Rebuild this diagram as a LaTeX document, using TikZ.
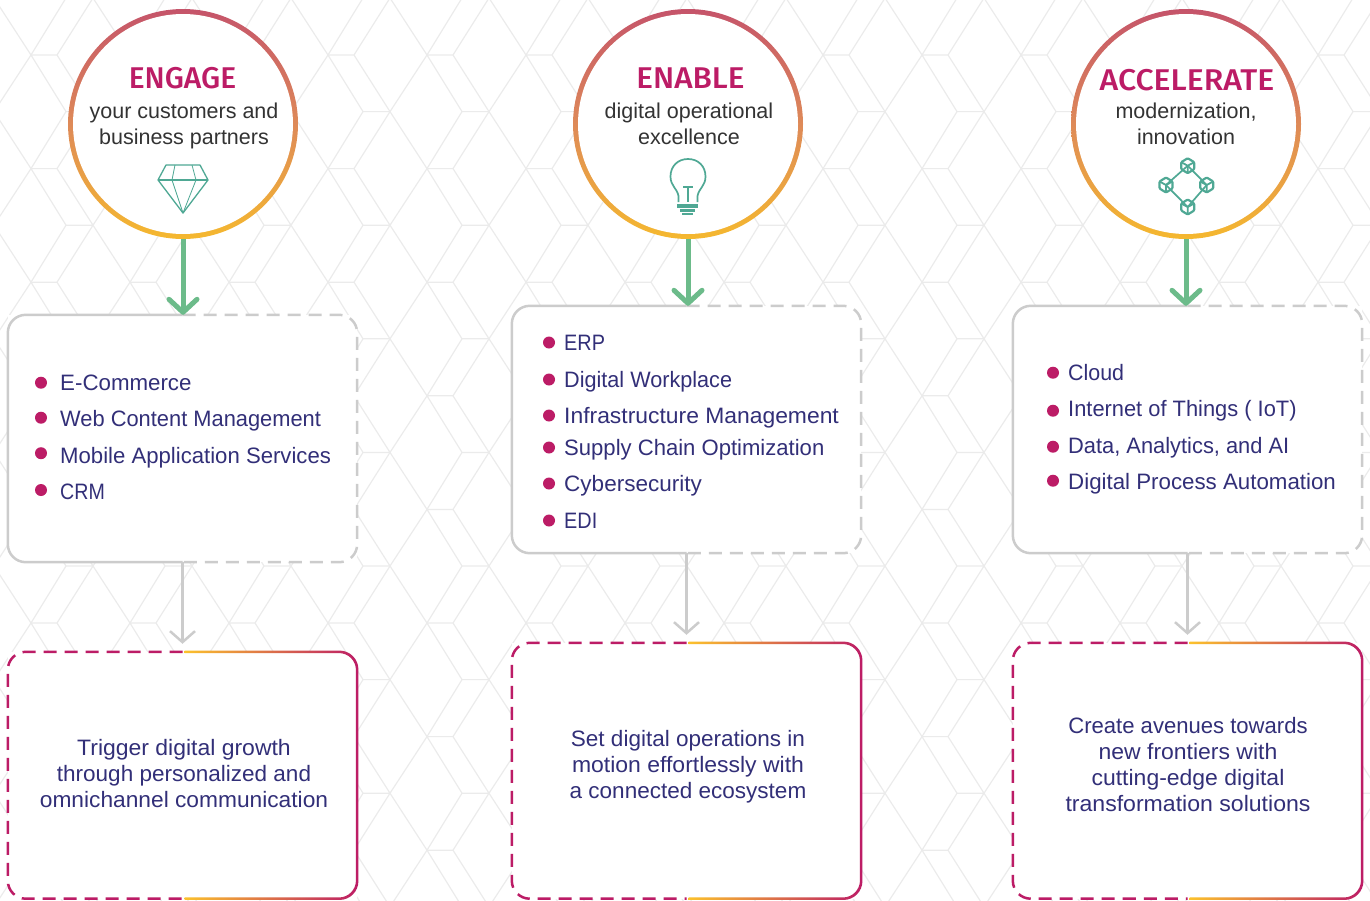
\documentclass[tikz,border=0pt]{standalone}
\usepackage{graphicx}
\usepackage{fontspec}
\setmainfont{Liberation Sans}
\newfontfamily\headfont{Fira Sans Medium}
\usetikzlibrary{arrows.meta}
\definecolor{patt}{HTML}{EBEBEB}
\definecolor{ink}{HTML}{322F78}
\definecolor{rose}{HTML}{BC1C66}
\definecolor{subink}{HTML}{333333}
\definecolor{leaf}{HTML}{6CBB8A}
\definecolor{ash}{HTML}{CCCCCC}
\definecolor{teal}{HTML}{4FA894}
\definecolor{ringtop}{HTML}{C5546A}
\definecolor{ringmid}{HTML}{DE8A58}
\definecolor{ringbot}{HTML}{F5B82F}
\definecolor{gold}{HTML}{FCC32B}
\newcommand{\xs}[2]{\scalebox{#1}[1]{#2}}
\tikzset{
  ringnode/.style={circle,minimum size=230pt,inner sep=0pt,top color=ringtop,bottom color=ringbot,middle color=ringmid},
  discnode/.style={circle,minimum size=220pt,inner sep=0pt,fill=white},
  titletext/.style={anchor=base,text=rose,font=\fontsize{30}{32}\selectfont\headfont},
  subtext/.style={anchor=base,text=subink,font=\fontsize{21.5}{26}\selectfont},
  panel/.style={minimum width=349pt,inner sep=0pt,fill=white},
  listtext/.style={anchor=base west,inner xsep=0pt,text=ink,font=\fontsize{22.3}{26}\selectfont},
  blurb/.style={anchor=center,align=center,text=ink,font=\fontsize{22.3}{26}\selectfont},
  dotnode/.style={circle,minimum size=12pt,inner sep=0pt,fill=rose},
  greyedge/.style={draw=ash,line width=2.5pt,rounded corners=18pt},
  pinkedge/.style={draw=rose,line width=2.5pt,rounded corners=18pt},
  bigarrow/.style={draw=leaf,line width=5pt,-{Straight Barb[length=13pt,width=28pt,line cap=round,round]}},
  thinarrow/.style={draw=ash,line width=2.5pt,-{Straight Barb[length=11pt,width=25pt]}},
  icon/.style={draw=teal,line width=1.3pt,line join=round},
}
\newcommand{\halfgrey}[1]{%
  \draw[greyedge] (#1.north) -- (#1.north west) -- (#1.south west) -- (#1.south);
  \draw[greyedge,dash pattern=on 13pt off 8pt] (#1.north) -- (#1.north east) -- (#1.south east) -- (#1.south);
}
\newcommand{\halfpink}[1]{%
  \draw[pinkedge,dash pattern=on 13pt off 8pt] (#1.north) -- (#1.north west) -- (#1.south west) -- (#1.south);
  \begin{scope}
    \clip ([xshift=2pt,yshift=5pt]#1.north) rectangle ([xshift=6pt,yshift=-6pt]#1.south east);
    \path[even odd rule,left color=gold,right color=rose,middle color=gold]
      [rounded corners=19pt] ([xshift=-1.25pt,yshift=1.25pt]#1.north west) rectangle ([xshift=1.25pt,yshift=-1.25pt]#1.south east)
      [rounded corners=17pt] ([xshift=1.25pt,yshift=-1.25pt]#1.north west) rectangle ([xshift=-1.25pt,yshift=1.25pt]#1.south east);
  \end{scope}
}
\newcommand{\cubeicon}[2]{%
  \begin{scope}[shift={(#1,#2)}]
    \draw[icon,line width=2.2pt,rounded corners=1pt] (0,-7.5) -- (6.5,-3.5) -- (6.5,3.5) -- (0,7.5) -- (-6.5,3.5) -- (-6.5,-3.5) -- cycle;
    \draw[icon,line width=1.8pt] (-6.5,-3.5) -- (0,0) -- (6.5,-3.5) (0,0) -- (0,7.5);
  \end{scope}
}
\begin{document}
\begin{tikzpicture}[x=1pt,y=-1pt]
\useasboundingbox (0,0) rectangle (1370,900);
\begin{scope}
\clip (0,0) rectangle (1370,900);
\foreach \i in {-1,...,13} \foreach \j in {-1,...,8} {
  \begin{scope}[shift={({-6+99*\i},{-2+113.6*\j})}]
    \draw[patt,line width=1.2pt]
      (0,0) -- (37,57) -- (0,113.6)
      (37,57) -- (72,113.6) -- (99,113.6)
      (72,113.6) -- (37,170.6)
      (37,57) -- (63,57) -- (99,113.6)
      (63,57) -- (99,0);
  \end{scope}
}
\end{scope}

% column circles
\node[ringnode] (c1) at (183,124) {};
\node[discnode] (d1) at (183,124) {};
\node[ringnode] (c2) at (688,124) {};
\node[discnode] (d2) at (688,124) {};
\node[ringnode] (c3) at (1186,124) {};
\node[discnode] (d3) at (1186,124) {};

\node[titletext] (t1) at (182.5,88) {ENGAGE};
\node[subtext] (s1a) at (184,118) {your customers and};
\node[subtext] (s1b) at (184,144) {business partners};
\node[titletext] (t2) at (690.5,88) {\xs{1.05}{ENABLE}};
\node[subtext] (s2a) at (689,118) {digital operational};
\node[subtext] (s2b) at (689,144) {excellence};
\node[titletext] (t3) at (1187,90) {\xs{1.067}{ACCELERATE}};
\node[subtext] (s3a) at (1186,118) {modernization,};
\node[subtext] (s3b) at (1186,144) {innovation};

% gem
\draw[icon] (166,165) -- (200,165) -- (208,180) -- (183,213) -- (158,180) -- cycle;
\draw[icon] (158,180) -- (208,180);
\draw[icon,line width=0.8pt] (175,165) -- (172,180) -- (183,213) -- (196,180) -- (192,165);

% bulb
\draw[icon,line width=1.7pt] (678.5,202) -- (678.5,196) .. controls (677,188) and (670.5,186) .. (670.5,176.5)
  .. controls (670.5,166) and (678,159) .. (688,159) .. controls (698,159) and (705.5,166) .. (705.5,176.5)
  .. controls (705.5,186) and (699,188) .. (697.5,196) -- (697.5,202);
\draw[icon,line width=1.5pt] (683,187) -- (693,187) (688,187) -- (688,202);
\fill[teal] (677,204) rectangle (698,207.5);
\fill[teal] (680,208.5) rectangle (695,211.5);
\fill[teal] (682,212.5) rectangle (693,215);

% blockchain
\draw[icon,line width=1.7pt] (1187.7,165.7) -- (1166,185) -- (1187.7,207) -- (1206.7,185) -- cycle;
\cubeicon{1187.7}{165.7}
\cubeicon{1166}{185}
\cubeicon{1206.7}{185}
\cubeicon{1187.7}{207}

% list panels
\node[panel,minimum height=247pt] (b1) at (182.5,438.5) {};
\node[panel,minimum height=247pt] (b2) at (686.5,429.5) {};
\node[panel,minimum height=247pt] (b3) at (1187.5,429.5) {};
\halfgrey{b1}
\halfgrey{b2}
\halfgrey{b3}

% outcome panels
\node[panel,minimum height=246.5pt] (p1) at (182.5,775.25) {};
\node[panel,minimum height=255.5pt] (p2) at (686.5,770.75) {};
\node[panel,minimum height=255.5pt] (p3) at (1187.5,770.75) {};
\halfpink{p1}
\halfpink{p2}
\halfpink{p3}

% connectors
\draw[bigarrow] (c1.south) -- (c1.south |- b1.north);
\draw[bigarrow] (c2.south) -- (c2.south |- b2.north);
\draw[bigarrow] (c3.south) -- (c3.south |- b3.north);
\draw[thinarrow,shorten >=8pt] (b1.south) -- (p1.north);
\draw[thinarrow,shorten >=8pt] (b2.south) -- (p2.north);
\draw[thinarrow,shorten >=8pt] (b3.south) -- (p3.north);

% bullets
\foreach \n/\y/\dy/\txt in {a/390/382.7/E-Commerce,b/426/417.7/\xs{.98}{Web Content Management},c/463.2/453.2/\xs{.993}{Mobile Application Services},d/499/490/\xs{.88}{CRM}}{
  \node[dotnode] (e\n) at (41,\dy) {};
  \node[listtext] (f\n) at (60,\y) {\txt};
}
\foreach \n/\y/\dy/\txt in {a/350/342.5/\xs{.89}{ERP},b/387/379.5/\xs{.97}{Digital Workplace},c/423/415.5/\xs{1.026}{Infrastructure Management},d/455/447.5/\xs{.99}{Supply Chain Optimization},e/491/483.5/\xs{1.01}{Cybersecurity},f/528/520.5/\xs{.89}{EDI}}{
  \node[dotnode] (g\n) at (549,\dy) {};
  \node[listtext] (h\n) at (564,\y) {\txt};
}
\foreach \n/\y/\dy/\txt in {a/380/372.7/\xs{.96}{Cloud},b/416.7/410.7/\xs{.98}{Internet of Things ( IoT)},c/453.2/446.7/\xs{.98}{{Data, Analytics, and AI}},d/489/480.7/Digital Process Automation}{
  \node[dotnode] (i\n) at (1053,\dy) {};
  \node[listtext] (j\n) at (1068,\y) {\txt};
}

% blurbs
\node[blurb] (q1) at (184,773.5) {\xs{1.03}{Trigger digital growth}\\\xs{1.01}{through personalized and}\\\xs{1.02}{omnichannel communication}};
\node[blurb] (q2) at (688,766.5) {\xs{1.01}{Set digital operations in}\\\xs{1.03}{motion effortlessly with}\\\xs{1.01}{a connected ecosystem}};
\node[blurb] (q3) at (1188,765) {\xs{.99}{Create avenues towards}\\\xs{1.03}{new frontiers with}\\\xs{1.03}{cutting-edge digital}\\\xs{1.035}{transformation solutions}};
\end{tikzpicture}
\end{document}
